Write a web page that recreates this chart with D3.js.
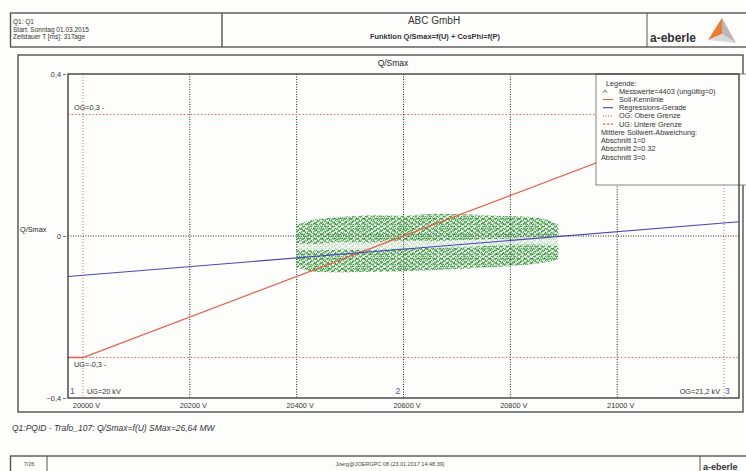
<!DOCTYPE html>
<html>
<head>
<meta charset="utf-8">
<script src="https://cdn.jsdelivr.net/npm/d3@7"></script>
<style>
body { margin: 0; background: #fdfdfc; }
svg { display: block; font-family: "Liberation Sans", Arial, sans-serif; }
.tick text { font-size: 7.3px; fill: #333; }
</style>
</head>
<body>
<svg id="chart" width="746" height="471"></svg>
<script>
// x ticks (V) and y ticks (Q/Smax)
var xTicks = [20000, 20200, 20400, 20600, 20800, 21000];
var yTicks = [-0.4, 0, 0.4];
var ogQ = 0.3, ugQ = -0.3;          // OG / UG Q/Smax
var ugU = 20000, ogU = 21200;       // UG=20 kV, OG=21.2 kV

// Soll-Kennlinie (V, Q/Smax)
var sollU = [19972, 20000, 21200, 21228];
var sollQ = [-0.3, -0.3, 0.3, 0.3];

// Regressions-Gerade
var regU = [19972, 21228];
var regQ = [-0.1, 0.035];

// Messwerte cloud, read as two bands (upper/lower edge per voltage)
var bandU = [20400, 20430, 20480, 20540, 20600, 20660, 20720, 20780, 20840, 20870, 20890];
var upperTop = [0.028, 0.04, 0.047, 0.052, 0.05, 0.055, 0.053, 0.05, 0.047, 0.04, 0.028];
var upperBot = [-0.018, -0.02, -0.015, -0.016, -0.012, -0.013, -0.009, -0.007, -0.004, -0.003, 0.0];
var lowerTop = [-0.034, -0.036, -0.034, -0.035, -0.031, -0.029, -0.027, -0.023, -0.021, -0.022, -0.024];
var lowerBot = [-0.078, -0.088, -0.09, -0.088, -0.087, -0.084, -0.08, -0.076, -0.07, -0.064, -0.058];

var legendLines = ["Soll-Kennlinie", "Regressions-Gerade", "OG: Obere Grenze", "UG: Untere Grenze"];
var abschnitte = ["Abschnitt 1=0", "Abschnitt 2=0.32", "Abschnitt 3=0"];

var svg = d3.select("#chart");
var gray = "#555";

// ---- header
var head = svg.append("g");
head.append("rect").attr("x", 10.5).attr("y", 13).attr("width", 745).attr("height", 34)
	.attr("fill", "none").attr("stroke", gray).attr("stroke-width", 1.4);
head.append("line").attr("x1", 222).attr("x2", 222).attr("y1", 13).attr("y2", 47).attr("stroke", gray).attr("stroke-width", 1.4);
head.append("line").attr("x1", 647).attr("x2", 647).attr("y1", 13).attr("y2", 47).attr("stroke", gray).attr("stroke-width", 1);
["Q1: Q1", "Start: Sonntag 01.03.2015", "Zeitdauer T [ms]: 31Tage"].forEach(function(t, i) {
	head.append("text").attr("x", 13).attr("y", 24 + i * 7.5).attr("font-size", "6.5px").attr("fill", "#333").text(t);
});
head.append("text").attr("x", 434).attr("y", 24).attr("text-anchor", "middle")
	.attr("font-size", "10px").attr("fill", "#333").text("ABC GmbH");
head.append("text").attr("x", 435).attr("y", 39).attr("text-anchor", "middle")
	.attr("font-size", "7.5px").attr("font-weight", "bold").attr("fill", "#333").text("Funktion Q/Smax=f(U) + CosPhi=f(P)");

function logo(g, x, y, s) {
	g.append("text").attr("x", x).attr("y", y).attr("font-size", (12 * s) + "px")
		.attr("font-weight", "bold").attr("fill", "#333").text("a-eberle");
	var tx = x + 56 * s;
	g.append("path").attr("d", "M" + (tx + 16 * s) + "," + (y - 24 * s) + "L" + (tx + 2 * s) + "," + (y - 2 * s) + "L" + (tx + 16 * s) + "," + (y - 8 * s) + "Z").attr("fill", "#f07a30");
	g.append("path").attr("d", "M" + (tx + 16 * s) + "," + (y - 24 * s) + "L" + (tx + 30 * s) + "," + (y + 1 * s) + "L" + (tx + 16 * s) + "," + (y - 8 * s) + "Z").attr("fill", "#b8b8b8");
	g.append("path").attr("d", "M" + (tx + 2 * s) + "," + (y - 2 * s) + "L" + (tx + 30 * s) + "," + (y + 1 * s) + "L" + (tx + 16 * s) + "," + (y - 8 * s) + "Z").attr("fill", "#d8d8d8");
}
logo(head, 650, 42, 1);

// ---- chart frame
var outer = { l: 18, t: 55, r: 743, b: 412 };
var plot = { l: 68, t: 74, r: 739, b: 398 };

svg.append("rect").attr("x", outer.l).attr("y", outer.t).attr("width", outer.r - outer.l).attr("height", outer.b - outer.t)
	.attr("fill", "none").attr("stroke", "#444").attr("stroke-width", 1.3);
svg.append("text").attr("x", 393).attr("y", 66).attr("text-anchor", "middle").attr("font-size", "8.5px").attr("fill", "#222").text("Q/Smax");
svg.append("text").attr("x", 20).attr("y", 232).attr("font-size", "7.3px").attr("fill", "#222").text("Q/Smax");

var x = d3.scaleLinear().domain([19972, 21228]).range([plot.l, plot.r]);
var y = d3.scaleLinear().domain([-0.4, 0.4]).range([plot.b, plot.t]);

var g = svg.append("g");

// grid lines
g.selectAll(".vgrid").data(xTicks.filter(function(d) { return d != ugU; })).enter().append("line")
	.attr("x1", function(d) { return x(d); }).attr("x2", function(d) { return x(d); })
	.attr("y1", plot.t).attr("y2", plot.b)
	.attr("stroke", "#222").attr("stroke-dasharray", "1,1.5").attr("stroke-width", 1);
g.selectAll(".vlim").data([ugU, ogU]).enter().append("line")
	.attr("x1", function(d) { return x(d); }).attr("x2", function(d) { return x(d); })
	.attr("y1", plot.t).attr("y2", plot.b)
	.attr("stroke", "#e06a5a").attr("stroke-dasharray", "1,2").attr("stroke-width", 1);
g.append("line").attr("x1", plot.l).attr("x2", plot.r).attr("y1", y(0)).attr("y2", y(0))
	.attr("stroke", "#222").attr("stroke-dasharray", "1,1.5").attr("stroke-width", 1);
g.selectAll(".hlim").data([ogQ, ugQ]).enter().append("line")
	.attr("x1", plot.l).attr("x2", plot.r).attr("y1", function(d) { return y(d); }).attr("y2", function(d) { return y(d); })
	.attr("stroke", "#e06a5a").attr("stroke-dasharray", "1.5,2").attr("stroke-width", 1);

// scatter cloud texture (two overlaid tiles so the marks do not look too regular)
var defs = svg.append("defs");
function makePattern(id, w, h, marks) {
	var pat = defs.append("pattern").attr("id", id).attr("patternUnits", "userSpaceOnUse").attr("width", w).attr("height", h);
	marks.forEach(function(p, i) {
		pat.append("path").attr("d", "M" + p[0] + "," + (p[1] + 1.4) + "l1,-1.4l1,1.4")
			.attr("fill", "none").attr("stroke", i % 2 ? "#24852f" : "#40a040").attr("stroke-width", 0.95);
	});
}
makePattern("ptsA", 6, 4, [[0.3, 0.3], [3.2, 1.9], [1.4, 2.4], [4.6, 0.1]]);
makePattern("ptsB", 7, 5, [[2.1, 0.8], [5.3, 3.1], [0.2, 3.6]]);

var bandArea = function(top, bot) {
	return d3.area().curve(d3.curveLinear)
		.x(function(d, i) { return x(bandU[i]); })
		.y0(function(d, i) { return y(bot[i]); })
		.y1(function(d, i) { return y(top[i]); })(bandU);
};
[[upperTop, upperBot, 1], [lowerTop, lowerBot, 1], [upperBot, lowerTop, 0.25]].forEach(function(b) {
	g.append("path").attr("d", bandArea(b[0], b[1])).attr("fill", "url(#ptsA)").attr("opacity", b[2]);
	g.append("path").attr("d", bandArea(b[0], b[1])).attr("fill", "url(#ptsB)").attr("opacity", b[2]);
});

// lines
var line = d3.line().x(function(d) { return x(d[0]); }).y(function(d) { return y(d[1]); });
g.append("path").attr("d", line(sollU.map(function(u, i) { return [u, sollQ[i]]; })))
	.attr("fill", "none").attr("stroke", "#e2604c").attr("stroke-width", 1.3);
g.append("path").attr("d", line(regU.map(function(u, i) { return [u, regQ[i]]; })))
	.attr("fill", "none").attr("stroke", "#4848b8").attr("stroke-width", 1.1);

// labels inside the plot
g.append("text").attr("x", plot.l + 6).attr("y", y(ogQ) - 5).attr("font-size", "7.3px").attr("fill", "#333").text("OG=0,3 -");
g.append("text").attr("x", plot.l + 6).attr("y", y(ugQ) + 9).attr("font-size", "7.3px").attr("fill", "#333").text("UG=-0,3 -");
g.append("text").attr("x", x(ugU) + 4).attr("y", plot.b - 4).attr("font-size", "7.3px").attr("fill", "#333").text("UG=20 kV");
g.append("text").attr("x", x(ogU) - 4).attr("y", plot.b - 4).attr("text-anchor", "end").attr("font-size", "7.3px").attr("fill", "#333").text("OG=21,2 kV");
[[19972, "1", 2], [20600, "2", -8], [ogU, "3", 1]].forEach(function(m) {
	g.append("text").attr("x", x(m[0]) + m[2]).attr("y", plot.b - 4).attr("font-size", "8.5px").attr("fill", "#5a4fa8").text(m[1]);
});

// legend box
var lg = svg.append("g");
lg.append("rect").attr("x", 596).attr("y", plot.t).attr("width", 155).attr("height", 111)
	.attr("fill", "#fdfdfc").attr("stroke", "#666").attr("stroke-width", 0.8);
lg.append("text").attr("x", 606).attr("y", 86).attr("font-size", "7.3px").attr("fill", "#333").text("Legende:");
lg.append("path").attr("d", "M603,93l2,-3l2,3").attr("fill", "none").attr("stroke", "#2f8f3a").attr("stroke-width", 0.9);
lg.append("text").attr("x", 619).attr("y", 94).attr("font-size", "7.3px").attr("fill", "#333").text("Messwerte=4403 (ungültig=0)");
var legStyles = [
	{ c: "#e2604c", d: null },
	{ c: "#4848b8", d: null },
	{ c: "#e06a5a", d: "1,1.5" },
	{ c: "#e06a5a", d: "2.5,1.5" }
];
legendLines.forEach(function(t, i) {
	var ly = 102 + i * 8.2;
	lg.append("line").attr("x1", 603).attr("x2", 613).attr("y1", ly - 2.5).attr("y2", ly - 2.5)
		.attr("stroke", legStyles[i].c).attr("stroke-dasharray", legStyles[i].d).attr("stroke-width", 1.1);
	lg.append("text").attr("x", 619).attr("y", ly).attr("font-size", "7.3px").attr("fill", "#333").text(t);
});
lg.append("text").attr("x", 601).attr("y", 135).attr("font-size", "7.3px").attr("fill", "#333").text("Mittlere Sollwert-Abweichung:");
abschnitte.forEach(function(t, i) {
	lg.append("text").attr("x", 601).attr("y", 143.2 + i * 8.2).attr("font-size", "7.3px").attr("fill", "#333").text(t);
});

// plot frame and axes
svg.append("rect").attr("x", plot.l).attr("y", plot.t).attr("width", plot.r - plot.l).attr("height", plot.b - plot.t)
	.attr("fill", "none").attr("stroke", "#333").attr("stroke-width", 1.3);

svg.append("g").attr("transform", "translate(" + (plot.l - 2) + ",0)")
	.call(d3.axisLeft(y).tickValues(yTicks).tickSize(3).tickPadding(2).tickFormat(function(d) { return d3.format("")(d).replace(".", ","); }))
	.call(function(a) { a.select(".domain").remove(); a.selectAll("line").attr("stroke", "#777"); });

svg.append("g").attr("transform", "translate(0," + plot.b + ")")
	.call(d3.axisBottom(x).tickValues(xTicks).tickSize(0).tickPadding(5).tickFormat(function(d) { return d + " V"; }))
	.call(function(a) { a.select(".domain").remove(); a.selectAll("text").attr("dx", "3px"); });

// caption
svg.append("text").attr("x", 12).attr("y", 431).attr("font-size", "8.5px").attr("font-style", "italic").attr("fill", "#333")
	.text("Q1:PQID - Trafo_107: Q/Smax=f(U) SMax=26,64 MW");

// footer
var foot = svg.append("g");
foot.append("rect").attr("x", 10.5).attr("y", 456).attr("width", 745).attr("height", 30)
	.attr("fill", "none").attr("stroke", gray).attr("stroke-width", 1.4);
foot.append("line").attr("x1", 47).attr("x2", 47).attr("y1", 456).attr("y2", 471).attr("stroke", gray);
foot.append("line").attr("x1", 700).attr("x2", 700).attr("y1", 456).attr("y2", 471).attr("stroke", gray);
foot.append("text").attr("x", 29).attr("y", 466).attr("text-anchor", "middle").attr("font-size", "5.5px").attr("fill", "#444").text("7/26");
foot.append("text").attr("x", 390).attr("y", 466).attr("text-anchor", "middle").attr("font-size", "5.5px").attr("fill", "#444").text("Joerg@JOERGPC 08 (23.01.2017 14:48:39)");
logo(foot, 703, 470, 0.75);
</script>
</body>
</html>
